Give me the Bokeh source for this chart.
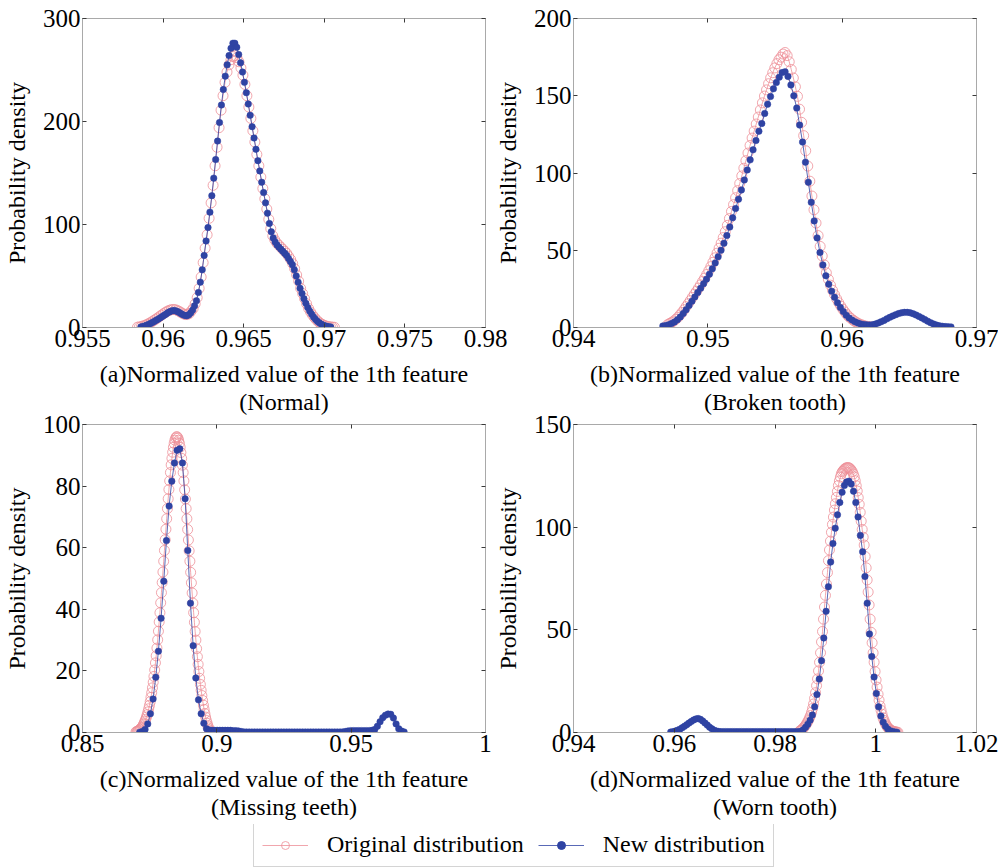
import numpy as np
from bokeh.plotting import figure
from bokeh.models import (Range1d, FixedTicker, LinearAxis, Legend, LegendItem,
                          CustomLabelingPolicy)
from bokeh.layouts import column, row
from bokeh.embed import file_html
from bokeh.resources import INLINE

FONT = "Liberation Serif"
PINK = "#ee8f98"
BLUE = "#2f43a3"
FRAME = "#a9a9a9"
TICKC = "#3a3a3a"

# ---------------- data ----------------
series_names = ["Original distribution", "New distribution"]

# (a) Normal
a_xticks = [0.955, 0.96, 0.965, 0.97, 0.975, 0.98]
a_xtick_labels = ["0.955", "0.96", "0.965", "0.97", "0.975", "0.98"]
a_yticks = [0, 100, 200, 300]
a_ytick_labels = ["0", "100", "200", "300"]
a_orig_span = [0.95841, 0.97063]
a_orig_y = [0.3, 0.6, 1.0, 1.6, 2.3, 3.2, 4.2, 5.3, 6.5, 7.8,
            9.1, 10.5, 11.9, 13.3, 14.6, 15.8, 16.7, 17.3, 17.5, 17.3,
            16.6, 15.6, 14.4, 13.3, 12.6, 12.6, 13.6, 16, 18.5, 23,
            29, 38, 49, 63, 77, 90, 106, 121, 138, 157,
            175, 194, 211, 225, 238, 248, 255, 260, 263, 264,
            262, 258, 252, 245, 236, 225, 214, 203, 191, 180,
            168, 157, 146, 135, 125, 115, 105, 96, 89, 85,
            82, 80, 78, 76, 74, 72, 69, 66, 62, 57,
            51, 45, 38, 33, 28, 23, 18.5, 15, 12, 9.5,
            7.3, 5.5, 4.0, 2.9, 2.0, 1.4, 0.9, 0.6, 0.4, 0.2]
a_new_span = [0.95862, 0.97040]
a_new_y = [0.5, 1.0, 1.5, 2.2, 3.0, 3.9, 4.9, 5.9, 7.0, 8.1,
           9.3, 10.5, 11.7, 12.8, 14.2, 15.3, 16.1, 16.4, 16.2, 15.6,
           14.6, 13.4, 12.3, 11.6, 11.4, 12.3, 14.2, 17, 21, 26,
           34, 44, 56, 70, 84, 97, 112, 128, 145, 163,
           181, 199, 216, 231, 244, 255, 264, 271, 276, 276,
           272, 265, 257, 248, 238, 228, 217, 206, 195, 184,
           173, 162, 152, 141, 131, 121, 111, 101, 93, 87,
           83, 80, 78, 76, 74, 72, 70, 67, 64, 61,
           56, 50, 44, 38, 33, 28, 23.5, 19.5, 16, 13,
           10.3, 8.0, 6.0, 4.5, 3.3, 2.3, 1.6, 1.1, 0.7, 0.4]

# (b) Broken tooth
b_xticks = [0.94, 0.95, 0.96, 0.97]
b_xtick_labels = ["0.94", "0.95", "0.96", "0.97"]
b_yticks = [0, 50, 100, 150, 200]
b_ytick_labels = ["0", "50", "100", "150", "200"]
b_orig_span = [0.9470, 0.9622]
b_orig_y = [1.8, 2.6, 3.3, 4.2, 5.3, 6.5, 8.1, 9.7, 11.5, 13.5,
            15.4, 17.4, 19.5, 21.5, 23.4, 25.5, 27.6, 29.8, 32, 34.3,
            36.8, 39.4, 42.2, 45.1, 48.1, 51.3, 54.6, 58.2, 62, 66.1,
            70.5, 75.1, 79.5, 84, 88.6, 93.2, 98.1, 103.1, 108, 112.9,
            117.8, 122.6, 127.1, 131.7, 136.2, 140.8, 145.4, 149.8, 153.8, 157.8,
            161.6, 164.9, 168, 170.8, 173.3, 175, 177, 178, 176, 172,
            167, 161.5, 155.8, 149.6, 141.3, 132.8, 124.2, 114.4, 104.5, 94.7,
            85.1, 76.2, 67.6, 59.5, 52.5, 46.3, 40.5, 35.4, 31.2, 27.4,
            24.1, 21.2, 18.5, 16, 13.8, 11.8, 10, 8.3, 6.9, 5.8,
            4.7, 3.8, 3.0, 2.3, 1.8, 1.3, 0.95, 0.7, 0.45, 0.25]
b_new_span = [0.94665, 0.9681]
b_new_y = [1.0, 1.3, 1.8, 2.6, 3.6, 5.0, 6.8, 9.0, 11.5, 14.2,
           17, 19.8, 22.6, 25.4, 28.3, 31.3, 34.5, 38, 41.8, 45.8,
           50, 54.5, 59.5, 65, 71, 77, 83, 89, 95.5, 102,
           108.5, 115, 121, 127, 132, 138.5, 144.5, 149.5, 154.5, 158.5,
           162, 165, 165.5, 162.5, 157, 150, 142, 131, 120, 107,
           94, 81, 69, 58, 48.5, 40.5, 33.5, 28, 23.5, 19.5,
           16, 13, 10.3, 8, 6.2, 4.8, 3.7, 2.9, 2.3, 1.9,
           1.7, 1.6, 1.8, 2.2, 2.9, 3.7, 4.6, 5.6, 6.6, 7.5,
           8.3, 9.0, 9.5, 9.8, 9.8, 9.5, 8.9, 8.1, 7.2, 6.2,
           5.1, 4.1, 3.1, 2.3, 1.6, 1.1, 0.8, 0.6, 0.5, 0.4]

# (c) Missing teeth
c_xticks = [0.85, 0.9, 0.95, 1.0]
c_xtick_labels = ["0.85", "0.9", "0.95", "1"]
c_yticks = [0, 20, 40, 60, 80, 100]
c_ytick_labels = ["0", "20", "40", "60", "80", "100"]
c_orig_span = [0.8699, 0.8975]
c_orig_y = [0.2, 0.3, 0.4, 0.5, 0.7, 0.9, 1.1, 1.4, 1.7, 2.1,
            2.6, 3.1, 3.7, 4.3, 5.0, 5.8, 6.7, 7.7, 8.8, 10.0,
            11.4, 12.9, 14.5, 16.3, 18.2, 20.3, 22.6, 24.9, 27.4, 30.1,
            32.9, 35.9, 38.9, 42.1, 45.4, 48.7, 52.1, 55.6, 59.1, 62.6,
            66.0, 69.4, 72.7, 75.9, 78.9, 81.7, 84.4, 86.9, 89.0, 91.0,
            92.6, 93.9, 94.9, 95.6, 96.0, 96.0, 95.6, 94.9, 93.9, 92.6,
            90.9, 89.0, 86.8, 84.4, 81.7, 78.8, 75.8, 72.7, 69.4, 65.9,
            62.5, 59.0, 55.6, 52.0, 48.6, 45.3, 42.0, 38.9, 35.8, 32.8,
            30.0, 27.2, 24.6, 22.1, 19.8, 17.6, 15.6, 13.7, 12.0, 10.4,
            8.9, 7.5, 6.2, 5.0, 3.9, 3.0, 2.2, 1.5, 0.9, 0.5]
c_new_span = [0.8713, 0.9697]
c_new_y = [0.1, 0.3, 1.0, 2.8, 6.1, 10.9, 17.9, 26.4, 37.1, 49.1,
           62.3, 73.5, 81.6, 87.5, 91.6, 92.1, 87.5, 75.9, 59.1, 42.0,
           28.2, 17.7, 10.6, 6.1, 3.0, 1.2, 0.8, 0.7, 0.7, 0.7,
           0.7, 0.7, 0.7, 0.7, 0.7, 0.6, 0.6, 0.5, 0.3, 0.2,
           0.15, 0.15, 0.15, 0.15, 0.15, 0.15, 0.15, 0.15, 0.15, 0.15,
           0.15, 0.15, 0.15, 0.15, 0.15, 0.15, 0.15, 0.15, 0.15, 0.15,
           0.15, 0.15, 0.15, 0.15, 0.15, 0.15, 0.15, 0.15, 0.15, 0.15,
           0.15, 0.15, 0.15, 0.15, 0.15, 0.15, 0.2, 0.3, 0.5, 0.6,
           0.6, 0.6, 0.6, 0.6, 0.6, 0.6, 0.6, 0.7, 1.0, 2.0,
           3.5, 4.8, 5.6, 6.0, 5.9, 4.7, 2.8, 1.2, 0.5, 0.2]

# (d) Worn tooth
d_xticks = [0.94, 0.96, 0.98, 1.0, 1.02]
d_xtick_labels = ["0.94", "0.96", "0.98", "1", "1.02"]
d_yticks = [0, 50, 100, 150]
d_ytick_labels = ["0", "50", "100", "150"]
d_orig_span = [0.9849, 1.0044]
d_orig_y = [0.7, 1.0, 1.3, 1.8, 2.3, 2.9, 3.6, 4.3, 5.2, 6.1,
            7.2, 8.3, 9.9, 11.7, 13.9, 16.6, 19.4, 22.8, 26.1, 30.0,
            34.2, 38.8, 44.1, 49.2, 55.2, 61.1, 66.8, 72.3, 77.9, 83.7,
            88.9, 93.2, 97.5, 101.3, 104.9, 108.3, 111.4, 114.5, 117.4, 120.3,
            122.5, 124.4, 126.0, 127.0, 127.6, 128.2, 128.6, 128.9, 129.0, 129.0,
            128.8, 128.4, 127.8, 127.0, 125.9, 124.5, 122.6, 120.2, 117.6, 114.4,
            111.1, 107.2, 102.9, 98.9, 95.1, 91.3, 85.7, 80.2, 74.3, 68.4,
            62.1, 55.2, 48.8, 43.7, 38.8, 34.2, 29.7, 25.6, 22.1, 18.6,
            15.7, 12.9, 10.8, 8.9, 7.2, 5.9, 4.8, 3.8, 3.0, 2.4,
            1.8, 1.4, 1.1, 0.8, 0.65, 0.5, 0.35, 0.25, 0.15, 0.1]
d_new_span = [0.9593, 1.0042]
d_new_y = [0.2, 0.4, 0.7, 1.1, 1.6, 2.3, 3.0, 3.8, 4.6, 5.4,
           6.1, 6.6, 6.8, 6.4, 5.6, 4.6, 3.6, 2.6, 1.8, 1.1,
           0.7, 0.5, 0.4, 0.4, 0.4, 0.4, 0.4, 0.4, 0.4, 0.4,
           0.4, 0.4, 0.4, 0.4, 0.4, 0.4, 0.4, 0.4, 0.4, 0.4,
           0.4, 0.4, 0.4, 0.4, 0.4, 0.4, 0.4, 0.4, 0.4, 0.4,
           0.4, 0.4, 0.4, 0.4, 0.4, 0.4, 0.4, 0.6, 1.3, 2.5,
           4.0, 6.0, 8.5, 12.5, 18.5, 26, 35, 46, 59, 71,
           83, 92, 99.5, 106, 112, 117, 120.3, 122, 122.4, 121,
           117.5, 112, 105, 96, 88, 76, 63, 48, 37, 27,
           19, 12.5, 8, 5, 3.0, 1.7, 0.9, 0.5, 0.3, 0.15]

x_labels = ["(a)Normalized value of the 1th feature\n(Normal)",
            "(b)Normalized value of the 1th feature\n(Broken tooth)",
            "(c)Normalized value of the 1th feature\n(Missing teeth)",
            "(d)Normalized value of the 1th feature\n(Worn tooth)"]
y_label = "Probability density"


# ---------------- helpers ----------------
NO_LABELS = CustomLabelingPolicy(code="return []")


def style_axis(ax, ticks, labels, show):
    ax.ticker = FixedTicker(ticks=ticks, minor_ticks=[])
    ax.major_tick_in = 4
    ax.major_tick_out = 0
    ax.minor_tick_in = 0
    ax.minor_tick_out = 0
    ax.axis_line_color = FRAME
    ax.axis_line_width = 1
    ax.major_tick_line_color = TICKC
    ax.major_tick_line_width = 1
    if show:
        ax.major_label_overrides = {t: l for t, l in zip(ticks, labels)}
        ax.major_label_text_font = FONT
        ax.major_label_text_font_size = "25px"
        ax.major_label_text_color = "black"
        ax.major_label_standoff = 0
        ax.axis_label_text_font = FONT
        ax.axis_label_text_font_size = "24px"
        ax.axis_label_text_font_style = "normal"
        ax.axis_label_text_color = "black"
    else:
        ax.major_label_policy = NO_LABELS
        ax.major_label_standoff = 0


def panel(xr, yr, xt, xtl, yt, ytl, xlabel, ospan, oy, nspan, ny, fh,
          left, right, top, bottom, margin):
    p = figure(frame_width=403, frame_height=fh,
               x_range=Range1d(*xr), y_range=Range1d(*yr),
               x_axis_type=None, y_axis_type=None,
               output_backend="svg", toolbar_location=None,
               min_border_left=left, min_border_right=right,
               min_border_top=top, min_border_bottom=bottom,
               background_fill_color="white", border_fill_color=None,
               outline_line_color=FRAME)
    p.margin = margin
    xb = LinearAxis(axis_label=xlabel)
    style_axis(xb, xt, xtl, True)
    xb.major_label_standoff = 2
    xb.axis_label_standoff = 11
    xb.axis_label_text_line_height = 1.08
    yl = LinearAxis(axis_label=y_label)
    style_axis(yl, yt, ytl, True)
    yl.major_label_standoff = 2
    yl.axis_label_standoff = 10
    xa = LinearAxis()
    style_axis(xa, xt, xtl, False)
    yr_ax = LinearAxis()
    style_axis(yr_ax, yt, ytl, False)
    p.add_layout(xb, "below")
    p.add_layout(yl, "left")
    p.add_layout(xa, "above")
    p.add_layout(yr_ax, "right")

    ox = np.linspace(ospan[0], ospan[1], len(oy))
    nx = np.linspace(nspan[0], nspan[1], len(ny))
    p.line(ox, oy, line_color=PINK, line_width=0.8)
    p.scatter(ox, oy, marker="circle", size=10, fill_color=None,
              line_color=PINK, line_width=0.8)
    p.line(nx, ny, line_color=BLUE, line_width=0.8)
    p.scatter(nx, ny, marker="circle", size=6.5, fill_color=BLUE,
              line_color=BLUE, line_width=0.5)
    return p


pa = panel((0.955, 0.98), (0, 300), a_xticks, a_xtick_labels, a_yticks, a_ytick_labels,
           x_labels[0], a_orig_span, a_orig_y, a_new_span, a_new_y, 309,
           80, 24, 18, 96, (0, 0, 0, 0))
pb = panel((0.94, 0.97), (0, 200), b_xticks, b_xtick_labels, b_yticks, b_ytick_labels,
           x_labels[1], b_orig_span, b_orig_y, b_new_span, b_new_y, 309,
           80, 24, 18, 96, (0, 0, 0, -18))
pc = panel((0.85, 1.0), (0, 100), c_xticks, c_xtick_labels, c_yticks, c_ytick_labels,
           x_labels[2], c_orig_span, c_orig_y, c_new_span, c_new_y, 308,
           80, 24, 16, 96, (0, 0, 0, 0))
pd = panel((0.94, 1.02), (0, 150), d_xticks, d_xtick_labels, d_yticks, d_ytick_labels,
           x_labels[3], d_orig_span, d_orig_y, d_new_span, d_new_y, 308,
           80, 24, 16, 96, (0, 0, 0, -18))

# legend strip (legend-only renderers hold no visible data)
lp = figure(width=996, height=43, x_range=Range1d(0, 1), y_range=Range1d(0, 1),
            x_axis_type=None, y_axis_type=None, output_backend="svg",
            toolbar_location=None, min_border=0, outline_line_color=None,
            border_fill_color=None, background_fill_color=None)
lp.margin = (-4, 0, 0, 0)
r1 = lp.line(x=[np.nan], y=[np.nan], line_color=PINK, line_width=0.8)
r2 = lp.scatter(x=[np.nan], y=[np.nan], marker="circle", size=8, fill_color=None,
                line_color=PINK, line_width=0.8)
r3 = lp.line(x=[np.nan], y=[np.nan], line_color=BLUE, line_width=0.8)
r4 = lp.scatter(x=[np.nan], y=[np.nan], marker="circle", size=5,
                fill_color=BLUE, line_color=BLUE)
leg = Legend(items=[LegendItem(label=series_names[0], renderers=[r1, r2]),
                    LegendItem(label=series_names[1], renderers=[r3, r4])],
             orientation="horizontal", location=(253, 0),
             padding=8, spacing=14, glyph_width=46, glyph_height=20,
             label_standoff=19, label_text_font=FONT, label_text_font_size="24px",
             label_text_color="black", border_line_color=FRAME,
             background_fill_color="white", background_fill_alpha=1.0, margin=0)
lp.add_layout(leg)

row1 = row(pa, pb)
row2 = row(pc, pd)
row2.margin = (-15, 0, 0, 0)
layout = column(row1, row2, lp)

open("out.html", "w").write(file_html(layout, INLINE))
